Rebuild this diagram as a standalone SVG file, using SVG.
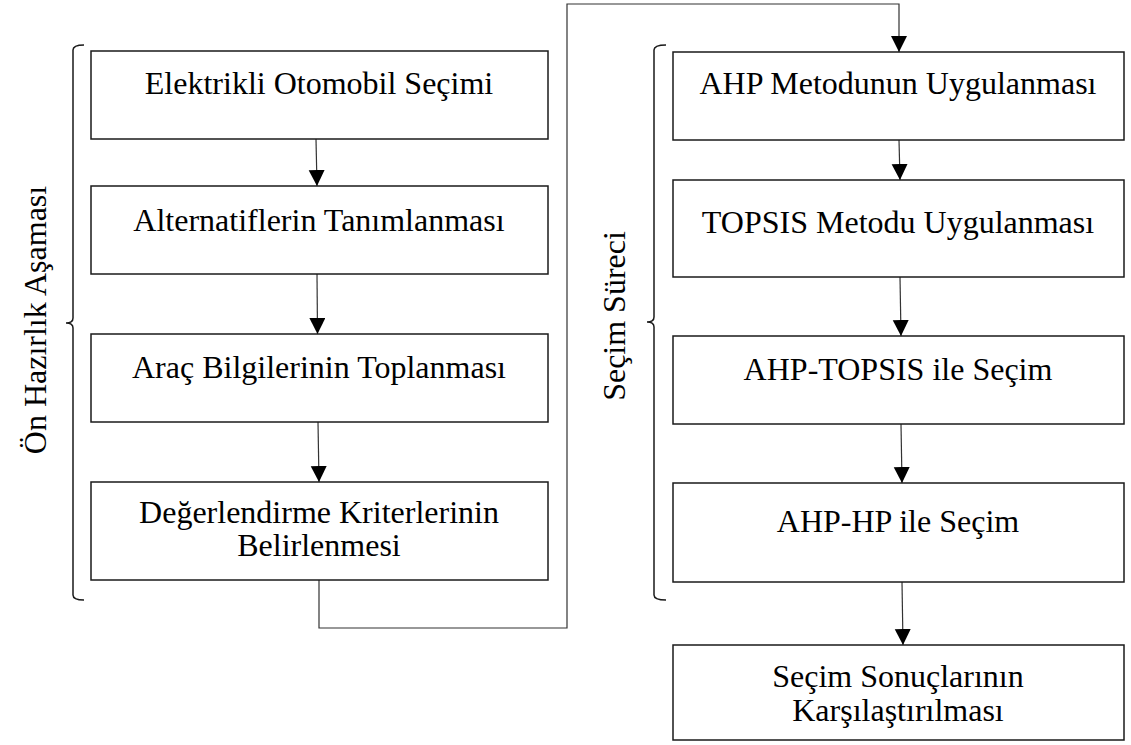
<svg xmlns="http://www.w3.org/2000/svg" width="1131" height="745" viewBox="0 0 1131 745">
  <defs>
    <style>
      .box { fill: #ffffff; stroke: #1a1a1a; stroke-width: 1.5; }
      .lbl { font-family: "Liberation Serif", "Times New Roman", serif; font-size: 32px; fill: #000000; text-anchor: middle; }
      .link { fill: none; stroke: #333333; stroke-width: 1.2; }
      .brace { fill: none; stroke: #1a1a1a; stroke-width: 1.5; }
    </style>
    <marker id="arrow" markerUnits="userSpaceOnUse" markerWidth="16" markerHeight="17" refX="16" refY="8" orient="auto">
      <path d="M0,0 L16,8 L0,16 Z" fill="#000000"/>
    </marker>
  </defs>
  <rect width="1131" height="745" fill="#ffffff"/>

  <!-- group brackets and their captions -->
  <g id="phase-prep">
    <path class="brace" d="M84,45 Q73,45 73,50 L73,318 Q73,323 66,323 Q73,323 73,328 L73,595 Q73,600 84,600"/>
    <text class="lbl" transform="translate(46,320) rotate(-90)">Ön Hazırlık Aşaması</text>
  </g>
  <g id="phase-select">
    <path class="brace" d="M666,45 Q654,45 654,50 L654,317 Q654,322 647,322 Q654,322 654,327 L654,595 Q654,600 666,600"/>
    <text class="lbl" transform="translate(625,316) rotate(-90)">Seçim Süreci</text>
  </g>

  <!-- connectors -->
  <g id="connectors">
    <line class="link" x1="316" y1="139" x2="317" y2="186" marker-end="url(#arrow)"/>
    <line class="link" x1="317" y1="274" x2="317.5" y2="334" marker-end="url(#arrow)"/>
    <line class="link" x1="318" y1="422" x2="319" y2="482" marker-end="url(#arrow)"/>
    <polyline class="link" points="319,580 319,628 567,628 567,4 899,4 899,52" marker-end="url(#arrow)"/>
    <line class="link" x1="899" y1="140" x2="900" y2="180" marker-end="url(#arrow)"/>
    <line class="link" x1="900" y1="277" x2="901" y2="336" marker-end="url(#arrow)"/>
    <line class="link" x1="901" y1="424" x2="902" y2="483" marker-end="url(#arrow)"/>
    <line class="link" x1="902" y1="582" x2="903" y2="645" marker-end="url(#arrow)"/>
  </g>

  <!-- left column -->
  <g id="n-secim">
    <rect class="box" x="91" y="51" width="457" height="88"/>
    <text class="lbl" x="319" y="94">Elektrikli Otomobil Seçimi</text>
  </g>
  <g id="n-alternatif">
    <rect class="box" x="91" y="186" width="457" height="88"/>
    <text class="lbl" x="319" y="231">Alternatiflerin Tanımlanması</text>
  </g>
  <g id="n-bilgi">
    <rect class="box" x="91" y="334" width="457" height="88"/>
    <text class="lbl" x="319" y="378">Araç Bilgilerinin Toplanması</text>
  </g>
  <g id="n-kriter">
    <rect class="box" x="91" y="482" width="457" height="98"/>
    <text class="lbl" x="319" y="523">Değerlendirme Kriterlerinin</text>
    <text class="lbl" x="319" y="556">Belirlenmesi</text>
  </g>

  <!-- right column -->
  <g id="n-ahp">
    <rect class="box" x="673" y="52" width="451" height="88"/>
    <text class="lbl" x="898" y="94">AHP Metodunun Uygulanması</text>
  </g>
  <g id="n-topsis">
    <rect class="box" x="673" y="180" width="451" height="97"/>
    <text class="lbl" x="898" y="233">TOPSIS Metodu Uygulanması</text>
  </g>
  <g id="n-ahp-topsis">
    <rect class="box" x="673" y="336" width="451" height="88"/>
    <text class="lbl" x="898" y="380">AHP-TOPSIS ile Seçim</text>
  </g>
  <g id="n-ahp-hp">
    <rect class="box" x="673" y="483" width="451" height="99"/>
    <text class="lbl" x="898" y="532">AHP-HP ile Seçim</text>
  </g>
  <g id="n-sonuc">
    <rect class="box" x="673" y="645" width="451" height="95"/>
    <text class="lbl" x="898" y="687">Seçim Sonuçlarının</text>
    <text class="lbl" x="898" y="721">Karşılaştırılması</text>
  </g>
</svg>
